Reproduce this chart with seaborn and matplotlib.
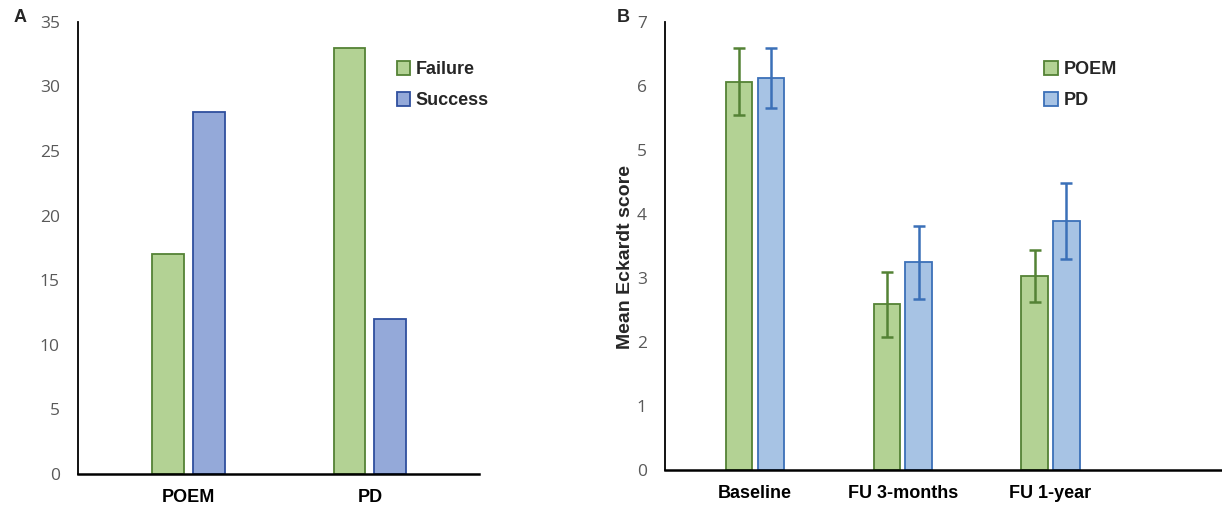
import numpy as np
import pandas as pd
import matplotlib.pyplot as plt
import seaborn as sns

# panel A: treatment outcome counts
groups_a = ['POEM', 'PD']
outcomes = ['Failure', 'Success']
failure_counts = [17, 33]
success_counts = [28, 12]

# panel B: mean Eckardt score with error
timepoints = ['Baseline', 'FU 3-months', 'FU 1-year']
treatments = ['POEM', 'PD']
poem_mean = [6.07, 2.59, 3.03]
pd_mean = [6.13, 3.25, 3.89]
poem_err = [0.52, 0.51, 0.41]
pd_err = [0.47, 0.57, 0.60]

GREEN_FILL = '#b3d294'
GREEN_EDGE = '#548235'
BLUE_A_FILL = '#94a9d9'
BLUE_A_EDGE = '#2f4f9e'
BLUE_B_FILL = '#a7c3e4'
BLUE_B_EDGE = '#3b70b8'
TICK_GRAY = '#595959'

sns.set_theme(style='white')
plt.rcParams['font.family'] = ['Liberation Sans', 'DejaVu Sans']

df_a = pd.DataFrame({
    'group': groups_a * 2,
    'outcome': [outcomes[0]] * 2 + [outcomes[1]] * 2,
    'count': failure_counts + success_counts,
})

df_b = pd.DataFrame({
    'time': timepoints * 2,
    'treatment': [treatments[0]] * 3 + [treatments[1]] * 3,
    'score': poem_mean + pd_mean,
    'err': poem_err + pd_err,
})

fig = plt.figure(figsize=(12.22, 5.11), dpi=100)
ax_a = fig.add_axes([0.0638, 0.0724, 0.328, 0.885])
ax_b = fig.add_axes([0.544, 0.080, 0.456, 0.877])


def style_axis(ax, ylim, yticks):
    ax.set_ylim(*ylim)
    ax.set_yticks(yticks)
    ax.set_xlabel('')
    for side in ['top', 'right']:
        ax.spines[side].set_visible(False)
    ax.spines['left'].set_color('black')
    ax.spines['left'].set_linewidth(1.3)
    ax.spines['bottom'].set_color('black')
    ax.spines['bottom'].set_linewidth(1.8)
    ax.tick_params(axis='both', length=0)
    ax.tick_params(axis='x', pad=11)
    ax.tick_params(axis='y', pad=13)
    for lab in ax.get_yticklabels():
        lab.set_family(['Open Sans', 'DejaVu Sans'])
        lab.set_fontsize(12.5)
        lab.set_color(TICK_GRAY)
    for lab in ax.get_xticklabels():
        lab.set_fontweight('bold')
        lab.set_fontsize(13)
        lab.set_color('black')


# ----- panel A -----
sns.barplot(data=df_a, x='group', y='count', hue='outcome', ax=ax_a,
            palette=[GREEN_FILL, BLUE_A_FILL], saturation=1,
            width=0.45, gap=0.22, errorbar=None, linewidth=1.3)
for cont, ec in zip(ax_a.containers, [GREEN_EDGE, BLUE_A_EDGE]):
    for patch in cont:
        patch.set_edgecolor(ec)
ax_a.set_xlim(-0.61, 1.6)
ax_a.set_ylabel('')
style_axis(ax_a, (0, 35), range(0, 36, 5))
leg = ax_a.legend(loc='upper left', bbox_to_anchor=(0.755, 0.95), frameon=False,
                  handlelength=0.75, handleheight=0.85, handletextpad=0.3,
                  labelspacing=0.75, prop={'weight': 'bold', 'size': 13})
for h, ec in zip(leg.legend_handles, [GREEN_EDGE, BLUE_A_EDGE]):
    h.set_edgecolor(ec)
    h.set_linewidth(1.3)

# ----- panel B -----
sns.barplot(data=df_b, x='time', y='score', hue='treatment', ax=ax_b,
            palette=[GREEN_FILL, BLUE_B_FILL], saturation=1,
            width=0.43, gap=0.17, errorbar=None, linewidth=1.3)
errs = [poem_err, pd_err]
for cont, ec, e in zip(ax_b.containers, [GREEN_EDGE, BLUE_B_EDGE], errs):
    xs = []
    ys = []
    for patch in cont:
        patch.set_edgecolor(ec)
        xs.append(patch.get_x() + patch.get_width() / 2)
        ys.append(patch.get_height())
    ax_b.errorbar(xs, ys, yerr=e, fmt='none', ecolor=ec, elinewidth=1.8,
                  capsize=4, capthick=1.8, zorder=5)
ax_b.set_xlim(-0.61, 3.16)
ax_b.set_ylabel('Mean Eckardt score', fontsize=14, fontweight='bold')
ax_b.yaxis.set_label_coords(-0.055, 0.475)
style_axis(ax_b, (0, 7), range(0, 8))
leg = ax_b.legend(loc='upper left', bbox_to_anchor=(0.652, 0.95), frameon=False,
                  handlelength=0.75, handleheight=0.85, handletextpad=0.3,
                  labelspacing=0.75, prop={'weight': 'bold', 'size': 13})
for h, ec in zip(leg.legend_handles, [GREEN_EDGE, BLUE_B_EDGE]):
    h.set_edgecolor(ec)
    h.set_linewidth(1.3)

# panel letters
fig.text(0.011, 0.965, 'A', fontsize=13, fontweight='bold', va='center')
fig.text(0.505, 0.965, 'B', fontsize=13, fontweight='bold', va='center')

fig.savefig('out.png', dpi=100)
